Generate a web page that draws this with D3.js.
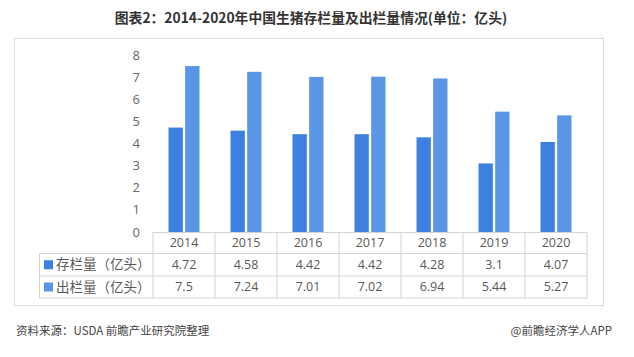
<!DOCTYPE html>
<html><head><meta charset="utf-8">
<script src="https://cdn.jsdelivr.net/npm/d3@7/dist/d3.min.js"></script>
<style>body{margin:0;background:#fff;}svg{display:block;font-family:"Noto Sans CJK SC","Noto Sans",sans-serif;}</style>
</head><body><svg id="c" width="634" height="357"></svg>
<script>
const years = ["2014","2015","2016","2017","2018","2019","2020"];
const stock = [4.72,4.58,4.42,4.42,4.28,3.1,4.07];
const slaughter = [7.5,7.24,7.01,7.02,6.94,5.44,5.27];
const seriesNames = ["存栏量（亿头）","出栏量（亿头）"];
const yTicks = [0,1,2,3,4,5,6,7,8];
const stockLabels = ["4.72","4.58","4.42","4.42","4.28","3.1","4.07"];
const slaughterLabels = ["7.5","7.24","7.01","7.02","6.94","5.44","5.27"];
const colors = ["#3e80e0","#5b96e6"];

const svg = d3.select("#c");
svg.append("text").attr("x",311).attr("y",23).attr("text-anchor","middle")
  .attr("font-size",13.8).attr("font-weight","bold").attr("fill","#333")
  .text("图表2：2014-2020年中国生猪存栏量及出栏量情况(单位：亿头)");

svg.append("rect").attr("x",14.5).attr("y",38.5).attr("width",589).attr("height",267)
  .attr("fill","#fff").attr("stroke","#dcdcdc");

const x = d3.scaleBand().domain(years).range([153,587]).padding(0);
const y = d3.scaleLinear().domain([0,8]).range([232,55]);

svg.append("g").selectAll("text").data(yTicks).join("text")
  .attr("x",140).attr("y",d=>y(d)).attr("dy","0.35em").attr("text-anchor","end")
  .attr("font-size",13).attr("fill","#666").attr("font-family","'Open Sans',sans-serif").text(d=>d);

const inner = d3.scaleBand().domain([0,1]).range([0,31]).paddingInner(0.14);
const g = svg.append("g");
[stock,slaughter].forEach((arr,si)=>{
  g.selectAll(null).data(arr).join("rect")
    .attr("x",(d,i)=>x(years[i])+x.bandwidth()/2-15.5+inner(si))
    .attr("width",inner.bandwidth())
    .attr("y",d=>y(d)).attr("height",d=>y(0)-y(d))
    .attr("fill",colors[si]);
});

const rowY = [232,253.5,276,298];
const tl = 39.5, pl = 153, pr = 587;
const lc = "#d4d4d4";
const tg = svg.append("g").attr("stroke",lc).attr("stroke-width",1).attr("fill","none");
tg.append("line").attr("x1",pl).attr("x2",pr).attr("y1",rowY[0]+0.5).attr("y2",rowY[0]+0.5);
[1,2,3].forEach(k=>tg.append("line").attr("x1",tl).attr("x2",pr).attr("y1",rowY[k]).attr("y2",rowY[k]));
tg.append("line").attr("x1",tl).attr("x2",tl).attr("y1",rowY[1]).attr("y2",rowY[3]);
years.forEach(yr=>tg.append("line").attr("x1",x(yr)).attr("x2",x(yr)).attr("y1",rowY[0]).attr("y2",rowY[3]));
tg.append("line").attr("x1",pr).attr("x2",pr).attr("y1",rowY[0]).attr("y2",rowY[3]);

const tf = "'Open Sans',sans-serif";
svg.append("g").selectAll("text").data(years).join("text")
  .attr("x",d=>x(d)+x.bandwidth()/2).attr("y",(rowY[0]+rowY[1])/2).attr("dy","0.35em")
  .attr("text-anchor","middle").attr("font-size",12.5).attr("fill","#595959").attr("font-family",tf).text(d=>d);
[stockLabels,slaughterLabels].forEach((arr,si)=>{
  const cy = (rowY[si+1]+rowY[si+2])/2;
  svg.append("g").selectAll("text").data(arr).join("text")
    .attr("x",(d,i)=>x(years[i])+x.bandwidth()/2).attr("y",cy).attr("dy","0.35em")
    .attr("text-anchor","middle").attr("font-size",12.5).attr("fill","#595959").attr("font-family",tf).text(d=>d);
  svg.append("rect").attr("x",44).attr("y",cy-4.5).attr("width",9).attr("height",9).attr("fill",colors[si]);
  svg.append("text").attr("x",56).attr("y",cy).attr("dy","0.35em").attr("font-size",13.5)
    .attr("fill","#595959").text(seriesNames[si]);
});

svg.append("text").attr("x",16).attr("y",331).attr("dy","0.35em").attr("font-size",11.5).attr("fill","#444")
  .text("资料来源：USDA 前瞻产业研究院整理");
svg.append("text").attr("x",612).attr("y",331).attr("dy","0.35em").attr("text-anchor","end").attr("font-size",11.5).attr("fill","#444")
  .text("@前瞻经济学人APP");
</script></body></html>
